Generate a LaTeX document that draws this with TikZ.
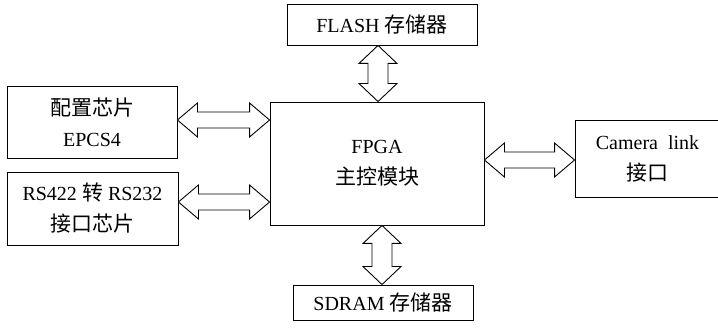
\documentclass[tikz,border=0pt]{standalone}
\usepackage{fontspec}
\setmainfont{Liberation Serif}
\newfontfamily\cjk[Scale=1.05]{Noto Sans CJK SC}
\usetikzlibrary{calc}
\tikzset{
  blk/.style={draw, line width=0.9pt, inner sep=0pt, align=center,
    font=\fontsize{20}{31}\selectfont},
  fat/.style={draw, line width=0.9pt, fill=white, line join=miter},
}
% horizontal fat double arrow between coordinates #1 (left) and #2 (right)
\newcommand\hfat[2]{%
  \draw[fat] (#1) -- ++(20,-17) -- ++(0,9) -- ($(#2)+(-20,-8)$) -- ++(0,-9) -- (#2)
    -- ++(-20,17) -- ++(0,-9) -- ($(#1)+(20,8)$) -- ++(0,9) -- cycle;}
% vertical fat double arrow between coordinates #1 (top) and #2 (bottom)
\newcommand\vfat[2]{%
  \draw[fat] (#1) -- ++(19,18) -- ++(-9,0) -- ($(#2)+(10,-18)$) -- ++(9,0) -- (#2)
    -- ++(-19,-18) -- ++(9,0) -- ($(#1)+(-10,18)$) -- ++(-9,0) -- cycle;}
\begin{document}
\begin{tikzpicture}[x=1pt,y=-1pt]
\useasboundingbox (0,0) rectangle (718,328);
\node[blk, minimum width=170, minimum height=72] (cfg) at (92,122)
  {{\cjk 配置芯片}\\EPCS4};
\node[blk, minimum width=171, minimum height=73] (rs) at (92.5,208.5)
  {RS422 {\cjk 转} RS232\\{\cjk 接口芯片}};
\node[blk, minimum width=214, minimum height=123] (fpga) at (377,163.5)
  {FPGA\\{\cjk 主控模块}};
\node[blk, minimum width=190, minimum height=41] (flash) at (382,24.5)
  {FLASH {\cjk 存储器}};
\node[blk, minimum width=180, minimum height=35] (sdram) at (383,302.5)
  {SDRAM {\cjk 存储器}};
\node[blk, minimum width=145, minimum height=77] (cam) at (647.5,158.5)
  {Camera\ \ link\\{\cjk 接口}};
\coordinate (a1) at (cfg.east |- 0,120);
\coordinate (a2) at (fpga.west |- 0,120);
\coordinate (b1) at (rs.east |- 0,202);
\coordinate (b2) at (fpga.west |- 0,202);
\coordinate (c1) at (fpga.east |- 0,160);
\coordinate (c2) at (cam.west |- 0,160);
\coordinate (d1) at (flash.south -| 378,0);
\coordinate (d2) at (fpga.north -| 378,0);
\coordinate (e1) at (fpga.south -| 382,0);
\coordinate (e2) at (sdram.north -| 382,0);
\hfat{a1}{a2}
\hfat{b1}{b2}
\hfat{c1}{c2}
\vfat{d1}{d2}
\vfat{e1}{e2}
\end{tikzpicture}
\end{document}
